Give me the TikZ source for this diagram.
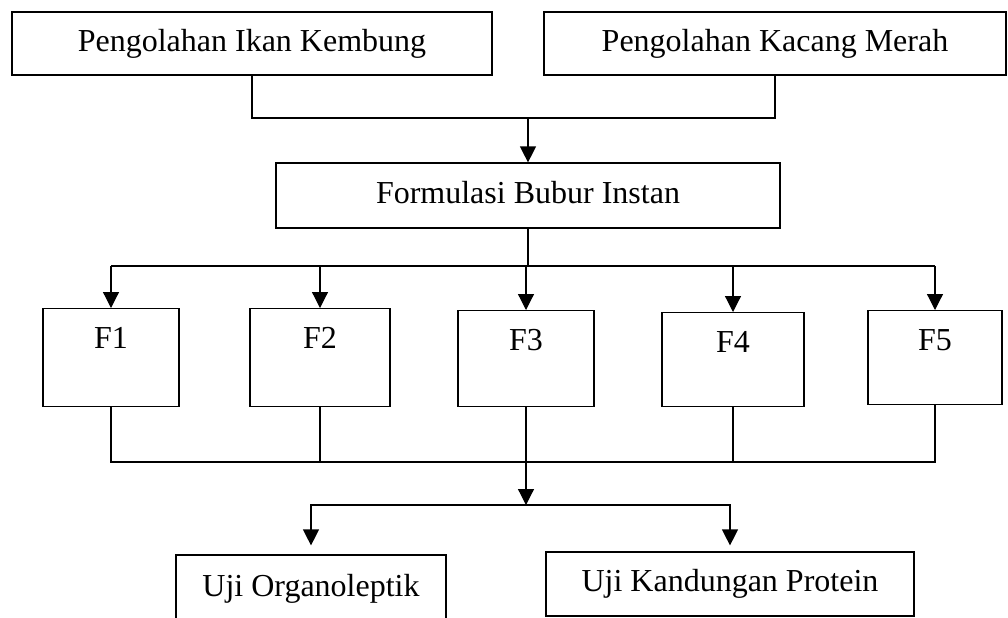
\documentclass[tikz,border=0pt]{standalone}
\usepackage{fontspec}
\setmainfont{Liberation Serif}
\usetikzlibrary{arrows.meta}
\tikzset{
	box/.style={draw, inner sep=0pt, text height=11pt, text depth=3.5pt},
	fbox/.style={draw, inner sep=0pt, anchor=north, text height=20pt},
	arr/.style={-{Triangle[length=8pt,width=8pt]}},
}
\begin{document}
\begin{tikzpicture}[x=0.5pt, y=-0.5pt, line width=0.6pt, font=\fontsize{16}{19}\selectfont]
	\useasboundingbox (0,0) rectangle (1008,617);
	\clip (0,0) rectangle (1008,617);
	\path
	(528,118) coordinate (j1)
	(528,266) coordinate (j2)
	(526,462) coordinate (j3)
	(526,505) coordinate (j4)
	;
	\node[box, minimum width=240pt, minimum height=31.5pt] (P1) at (252,43.5) {Pengolahan Ikan Kembung};
	\node[box, minimum width=231pt, minimum height=31.5pt] (P2) at (775,43.5) {Pengolahan Kacang Merah};
	\node[box, minimum width=252pt, minimum height=32.5pt] (F) at (528,195.5) {Formulasi Bubur Instan};
	% formula boxes: name/centre x/width/top/depth
	\foreach \n/\cx/\bw/\ty/\bd in {1/111/68/308/29, 2/320/70/308/29, 3/526/68/310/28, 4/733/71/312/27, 5/935/67/310/27}
	\node[fbox, minimum width=\bw pt, text depth=\bd pt] (F\n) at (\cx,\ty) {F\n};
	\node[box, minimum width=135pt, minimum height=34pt] (U1) at (311,589) {Uji Organoleptik};
	\node[box, minimum width=184pt, minimum height=32pt] (U2) at (730,584) {Uji Kandungan Protein};
	
	\draw (P1.south) |- (j1) -| (P2.south);
	\draw[arr] (j1) -- (F.north);
	\draw (F.south) -- (j2);
	\draw (F1.north |- j2) -- (F5.north |- j2);
	\foreach \n in {1,...,5}
	\draw[arr] (F\n.north |- j2) -- (F\n.north);
	\draw (F1.south) |- (j3) -| (F5.south);
	\draw (F2.south) -- (F2.south |- j3) (F4.south) -- (F4.south |- j3);
	\draw[arr] (F3.south) -- (j4);
	\draw[arr, shorten >=4.5pt] (j4) -| (U1.north);
	\draw[arr, shorten >=3pt] (j4) -| (U2.north);
\end{tikzpicture}
\end{document}
